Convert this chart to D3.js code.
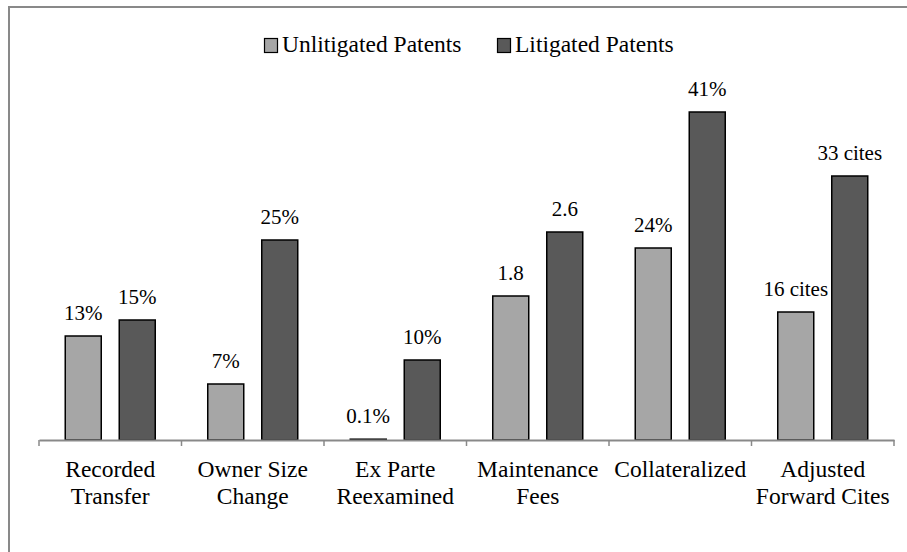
<!DOCTYPE html>
<html>
<head>
<meta charset="utf-8">
<script src="https://cdn.jsdelivr.net/npm/d3@7"></script>
<style>
  body { margin: 0; background: #fff; }
</style>
</head>
<body>
<div id="chart"></div>
<script>
// categories, two lines each
const categories = [
    ['Recorded', 'Transfer'],
    ['Owner Size', 'Change'],
    ['Ex Parte', 'Reexamined'],
    ['Maintenance', 'Fees'],
    ['Collateralized'],
    ['Adjusted', 'Forward Cites']
];
const seriesNames = ['Unlitigated Patents', 'Litigated Patents'];
const unlitigated = [13, 7, 0.1, 1.8, 24, 16];
const litigated = [15, 25, 10, 2.6, 41, 33];
const units = ['%', '%', '%', '', '%', ' cites'];
// maintenance fees are drawn at 10x so they sit on the same axis
const plotFactor = [1, 1, 1, 10, 1, 1];

const colors = ['#a6a6a6', '#595959'];
const fontStack = "'Liberation Serif', Tinos, 'Times New Roman', Times, 'Nimbus Roman', 'DejaVu Serif', serif";

const width = 907, height = 552;
const margin = {left: 39, right: 13, top: 80, bottom: 112};

const svg = d3.select('#chart')
    .append('svg')
    .attr('width', width)
    .attr('height', height)
    .attr('font-family', fontStack);

// outer frame (runs off the right and bottom of the picture)
svg.append('rect')
    .attr('x', 9)
    .attr('y', 7)
    .attr('width', width)
    .attr('height', height)
    .attr('fill', 'none')
    .attr('stroke', '#898989')
    .attr('stroke-width', 2);

const keys = categories.map(d => d.join(' '));

const x0 = d3.scaleBand()
    .domain(keys)
    .range([margin.left, width - margin.right]);

const x1 = d3.scaleBand()
    .domain(seriesNames)
    .range([0, x0.bandwidth()])
    .paddingInner(1 / 3)
    .paddingOuter(0.486);

const y = d3.scaleLinear()
    .domain([0, 45])
    .range([height - margin.bottom, margin.top]);

const rows = keys.map((k, i) => ({
    key: k,
    idx: i,
    values: [
        {series: seriesNames[0], value: unlitigated[i]},
        {series: seriesNames[1], value: litigated[i]}
    ]
}));

const groups = svg.selectAll('.group')
    .data(rows)
    .enter()
    .append('g')
    .attr('class', 'group')
    .attr('transform', d => 'translate(' + x0(d.key) + ',0)');

groups.selectAll('rect')
    .data(d => d.values.map(v => ({...v, idx: d.idx})))
    .enter()
    .append('rect')
    .attr('x', d => x1(d.series))
    .attr('y', d => y(d.value * plotFactor[d.idx]))
    .attr('width', x1.bandwidth())
    .attr('height', d => y(0) - y(d.value * plotFactor[d.idx]))
    .attr('fill', (d, i) => colors[i])
    .attr('stroke', '#000')
    .attr('stroke-width', 1.5);

groups.selectAll('.bar-value')
    .data(d => d.values.map(v => ({...v, idx: d.idx})))
    .enter()
    .append('text')
    .attr('class', 'bar-value')
    .attr('x', d => x1(d.series) + x1.bandwidth() / 2)
    .attr('y', d => y(d.value * plotFactor[d.idx]) - 16)
    .attr('text-anchor', 'middle')
    .attr('font-family', fontStack)
    .attr('font-size', '21px')
    .text(d => d.value + units[d.idx]);

// x axis: line plus ticks at category boundaries
const axis = svg.append('g')
    .attr('class', 'x-axis')
    .attr('transform', 'translate(0,' + y(0) + ')')
    .call(d3.axisBottom(x0).tickSize(0).tickFormat('').tickSizeOuter(0));

axis.select('.domain')
    .attr('stroke', '#898989')
    .attr('stroke-width', 2);

const bounds = keys.map(k => x0(k)).concat([x0.range()[1]]);
axis.selectAll('.bound')
    .data(bounds)
    .enter()
    .append('line')
    .attr('class', 'bound')
    .attr('x1', d => d)
    .attr('x2', d => d)
    .attr('y1', 0)
    .attr('y2', 6)
    .attr('stroke', '#898989')
    .attr('stroke-width', 1.5);

const catLabels = svg.selectAll('.cat-label')
    .data(categories)
    .enter()
    .append('text')
    .attr('class', 'cat-label')
    .attr('text-anchor', 'middle')
    .attr('font-family', fontStack)
    .attr('font-size', '23.5px')
    .attr('y', 477);

catLabels.selectAll('tspan')
    .data((d, i) => d.map(line => ({line, i})))
    .enter()
    .append('tspan')
    .attr('x', d => x0(keys[d.i]) + x0.bandwidth() / 2)
    .attr('dy', (d, j) => j === 0 ? 0 : 27.3)
    .text(d => d.line);

// legend
const legendX = [264, 497];
const legend = svg.selectAll('.legend')
    .data(seriesNames)
    .enter()
    .append('g')
    .attr('class', 'legend')
    .attr('transform', (d, i) => 'translate(' + legendX[i] + ',38)');

legend.append('rect')
    .attr('x', 0.5)
    .attr('y', 0.5)
    .attr('width', 13)
    .attr('height', 14)
    .attr('fill', (d, i) => colors[i])
    .attr('stroke', '#000')
    .attr('stroke-width', 1.2);

legend.append('text')
    .attr('x', 18)
    .attr('y', 14)
    .attr('font-family', fontStack)
    .attr('font-size', '23.5px')
    .text(d => d);
</script>
</body>
</html>
